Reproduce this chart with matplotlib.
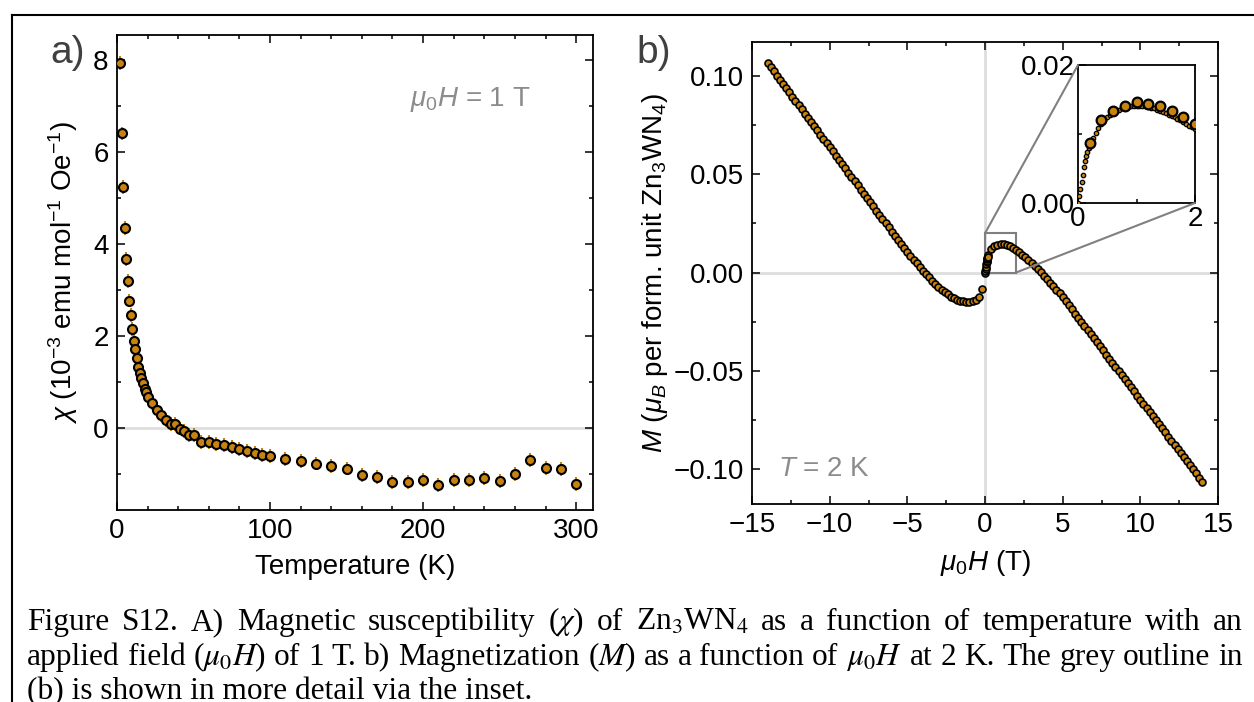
import matplotlib
matplotlib.use("Agg")
import matplotlib.pyplot as plt
import numpy as np
from matplotlib.lines import Line2D
from matplotlib.patches import Rectangle, ConnectionPatch
from matplotlib.ticker import AutoMinorLocator, FuncFormatter, FixedLocator

plt.rcParams["font.family"] = ["Liberation Sans", "DejaVu Sans"]
plt.rcParams["mathtext.fontset"] = "custom"
plt.rcParams["mathtext.rm"] = "Liberation Sans"
plt.rcParams["mathtext.it"] = "Liberation Sans:italic"
plt.rcParams["mathtext.bf"] = "Liberation Sans:bold"
plt.rcParams["axes.unicode_minus"] = True

# ---- panel a: susceptibility vs temperature (mu0H = 1 T)
temp_k = [2, 3, 4, 5, 6, 7, 8, 9, 10, 11, 12, 13, 14, 15, 16, 17, 18, 19, 20,
          23, 26, 29, 32, 35, 38, 41, 44, 47, 50,
          55, 60, 65, 70, 75, 80, 85, 90, 95, 100,
          110, 120, 130, 140, 150, 160, 170, 180, 190, 200,
          210, 220, 230, 240, 250, 260, 270, 280, 290, 300]
chi = [7.94, 6.40, 5.24, 4.34, 3.68, 3.20, 2.77, 2.46, 2.15, 1.89, 1.72, 1.52, 1.33, 1.19, 1.08, 0.97, 0.85, 0.78, 0.68,
       0.55, 0.39, 0.28, 0.18, 0.09, 0.09, -0.01, -0.07, -0.15, -0.15,
       -0.30, -0.31, -0.34, -0.37, -0.41, -0.45, -0.50, -0.55, -0.59, -0.60,
       -0.67, -0.72, -0.77, -0.83, -0.88, -1.02, -1.07, -1.18, -1.18, -1.12,
       -1.23, -1.13, -1.12, -1.09, -1.15, -0.99, -0.70, -0.86, -0.89, -1.21]
chi_err = 0.15

# ---- panel b: magnetization vs field at 2 K
field_neg = np.linspace(-14.0, -0.2, 70)
mag_neg = [0.1068, 0.1047, 0.1025, 0.1004, 0.0982, 0.0961, 0.0939, 0.0918, 0.0896, 0.0875,
           0.0853, 0.0832, 0.0810, 0.0789, 0.0767, 0.0746, 0.0724, 0.0703, 0.0681, 0.0660,
           0.0638, 0.0617, 0.0595, 0.0574, 0.0552, 0.0531, 0.0509, 0.0488, 0.0466, 0.0445,
           0.0423, 0.0402, 0.0380, 0.0359, 0.0337, 0.0316, 0.0294, 0.0273, 0.0251, 0.0230,
           0.0209, 0.0188, 0.0167, 0.0146, 0.0126, 0.0106, 0.0086, 0.0066, 0.0047, 0.0028,
           0.0010, -0.0008, -0.0025, -0.0042, -0.0058, -0.0073, -0.0087, -0.0100, -0.0112, -0.0123,
           -0.0132, -0.0139, -0.0144, -0.0147, -0.0149, -0.0148, -0.0145, -0.0138, -0.0125, -0.0082]

field_pos = np.linspace(0.2, 14.0, 70)
mag_pos = [0.0087, 0.0120, 0.0133, 0.0141, 0.0147, 0.0144, 0.0141, 0.0134, 0.0125, 0.0115,
           0.0104, 0.0091, 0.0077, 0.0063, 0.0048, 0.0033, 0.0017, 0.0001, -0.0016, -0.0033,
           -0.0051, -0.0069, -0.0087, -0.0106, -0.0125, -0.0146, -0.0167, -0.0188, -0.0209, -0.0230,
           -0.0250, -0.0271, -0.0292, -0.0313, -0.0334, -0.0355, -0.0376, -0.0397, -0.0418, -0.0439,
           -0.0459, -0.0480, -0.0501, -0.0522, -0.0543, -0.0564, -0.0585, -0.0606, -0.0627, -0.0648,
           -0.0668, -0.0689, -0.0710, -0.0731, -0.0752, -0.0773, -0.0794, -0.0815, -0.0836, -0.0857,
           -0.0877, -0.0898, -0.0919, -0.0940, -0.0961, -0.0982, -0.1003, -0.1024, -0.1045, -0.1066]

# fine low-field sweep shown in the inset
field_fine = [0.0, 0.02, 0.04, 0.06, 0.08, 0.10, 0.12, 0.14, 0.16, 0.18] + list(np.linspace(0.2, 2.0, 37))
mag_fine = [0.0000, 0.0010, 0.0020, 0.0030, 0.0041, 0.0052, 0.0061, 0.0068, 0.0074, 0.0079,
            0.0084, 0.0094, 0.0102, 0.0109, 0.0115, 0.0120,
            0.0124, 0.0127, 0.0130, 0.0133, 0.0135, 0.0137, 0.0138, 0.0139, 0.0140, 0.0141,
            0.0141, 0.0141, 0.0141, 0.0140, 0.0139, 0.0138, 0.0137, 0.0135, 0.0134, 0.0132,
            0.0130, 0.0128, 0.0126, 0.0124, 0.0122, 0.0120, 0.0117, 0.0115, 0.0112, 0.0110,
            0.0107]

ORANGE = "#c8820f"
ZERO = "#dedede"
GREY_TXT = "#8c8c8c"

W, H = 1254, 702
fig = plt.figure(figsize=(W / 100, H / 100), dpi=100)


def px_box(l, t, r, b):
    return [l / W, 1 - b / H, (r - l) / W, (b - t) / H]


def style(ax, nx=2, ny=2):
    ax.tick_params(which="both", direction="in", top=True, right=True, labelsize=20, pad=6, width=1.1)
    ax.tick_params(which="major", length=5.5)
    ax.tick_params(which="minor", length=3.2)
    for s in ax.spines.values():
        s.set_linewidth(1.3)
    ax.xaxis.set_minor_locator(AutoMinorLocator(nx))
    ax.yaxis.set_minor_locator(AutoMinorLocator(ny))


# ---- panel a
ax1 = fig.add_axes(px_box(117, 35, 593, 510))
ax1.axhline(0, color=ZERO, lw=2, zorder=0)
ax1.errorbar(temp_k, chi, yerr=chi_err, fmt="o", ms=6.5, mfc=ORANGE, mec="black", mew=1.5,
             ecolor=ORANGE, elinewidth=1.5, capsize=0, zorder=3)
ax1.set_xlim(0, 311)
ax1.set_ylim(-1.78, 8.54)
ax1.set_xticks([0, 100, 200, 300])
ax1.set_yticks([0, 2, 4, 6, 8])
style(ax1, nx=5, ny=2)
ax1.set_xlabel("Temperature (K)", fontsize=20)
ax1.set_ylabel(r"$\chi$ (10$^{-3}$ emu mol$^{-1}$ Oe$^{-1}$)", fontsize=20)
ax1.yaxis.set_label_coords(-0.078, 0.5)
ax1.xaxis.set_label_coords(0.5, -0.093)
ax1.text(0.6155, 0.865, r"$\mu_0H$ = 1 T", transform=ax1.transAxes, fontsize=20,
         color=GREY_TXT, ha="left", va="center")

# ---- panel b
mk = dict(ls="none", marker="o", mfc=ORANGE, mec="black", mew=1.2)
ax2 = fig.add_axes(px_box(752, 42, 1218, 504))
ax2.axhline(0, color=ZERO, lw=2, zorder=0)
ax2.axvline(0, color=ZERO, lw=2, zorder=0)
ax2.plot(field_neg, mag_neg, ms=5, zorder=3, **mk)
ax2.plot(field_pos, mag_pos, ms=5, zorder=3, **mk)
low = [i for i, h in enumerate(field_fine) if h < 0.2]
ax2.plot([field_fine[i] for i in low], [mag_fine[i] for i in low], ms=5, zorder=3, **mk)
ax2.add_patch(Rectangle((0, 0), 2, 0.02, fill=False, ec="#7f7f7f", lw=1.5, zorder=2))
ax2.set_xlim(-15, 15)
ax2.set_ylim(-0.118, 0.1175)
ax2.set_xticks([-15, -10, -5, 0, 5, 10, 15])
ax2.set_yticks([-0.10, -0.05, 0.0, 0.05, 0.10])
fmt2 = FuncFormatter(lambda v, _: f"{0.0 if abs(v) < 1e-9 else v:.2f}".replace("-", "\u2212"))
ax2.yaxis.set_major_formatter(fmt2)
style(ax2)
ax2.set_xlabel(r"$\mu_0H$ (T)", fontsize=20)
ax2.set_ylabel(r"$M$ ($\mu_B$ per form. unit Zn$_3$WN$_4$)", fontsize=20)
ax2.yaxis.set_label_coords(-0.176, 0.5)
ax2.xaxis.set_label_coords(0.5, -0.095)
ax2.text(0.0558, 0.0758, r"$T$ = 2 K", transform=ax2.transAxes, fontsize=20,
         color=GREY_TXT, ha="left", va="center")

# ---- inset
axin = fig.add_axes(px_box(1078, 65, 1195, 203))
axin.plot(field_fine, mag_fine, ms=3.2, zorder=3, **dict(mk, mew=0.9))
axin.plot(field_pos, mag_pos, ms=7, zorder=4, **dict(mk, mew=1.6))
axin.set_xlim(0, 2)
axin.set_ylim(0, 0.02)
axin.set_xticks([0, 2])
axin.set_yticks([0, 0.02])
axin.xaxis.set_minor_locator(FixedLocator([1]))
axin.yaxis.set_minor_locator(FixedLocator([0.01]))
axin.yaxis.set_major_formatter(FuncFormatter(lambda v, _: f"{v:.2f}"))
axin.tick_params(which="both", direction="in", labelsize=20, pad=2, width=1.1)
axin.tick_params(which="major", length=5.5)
axin.tick_params(which="minor", length=3.2)
for s in axin.spines.values():
    s.set_linewidth(1.3)

for xy_main, xy_in in [((0, 0.02), (0, 1)), ((2, 0), (1, 0))]:
    cp = ConnectionPatch(xyA=xy_main, coordsA=ax2.transData, xyB=xy_in, coordsB=axin.transAxes,
                         color="#808080", lw=1.5, zorder=1)
    fig.add_artist(cp)

# panel letters
fig.text(50 / W, 1 - 53 / H, "a)", fontsize=28, color="#404040", va="center", ha="left")
fig.text(636 / W, 1 - 53 / H, "b)", fontsize=28, color="#404040", va="center", ha="left")

# page frame
fig.add_artist(Line2D([12 / W, 1], [1 - 15 / H, 1 - 15 / H], transform=fig.transFigure, color="black", lw=1.5))
fig.add_artist(Line2D([12 / W, 12 / W], [1 - 15 / H, 0], transform=fig.transFigure, color="black", lw=1.5))

# ---- caption (justified)
cap_lines = [
    ["Figure", "S12.", "A)", "Magnetic", "susceptibility", r"($\chi$)", "of", r"Zn$_3$WN$_4$",
     "as", "a", "function", "of", "temperature", "with", "an"],
    ["applied", "field", r"($\mu_0H$)", "of", "1", "T.", "b)", "Magnetization", r"($M$)", "as", "a",
     "function", "of", r"$\mu_0H$", "at", "2", "K.", "The", "grey", "outline", "in"],
]
cap_last = "(b) is shown in more detail via the inset."
cap_kw = dict(family=["Liberation Serif", "DejaVu Serif"], math_fontfamily="stix", va="baseline", ha="left")
x_left, x_right = 27, 1243
baselines = [630, 665, 699]

renderer = fig.canvas.get_renderer()
base = 20
texts = [[fig.text(0, 0, w, fontsize=base, **cap_kw) for w in line] for line in cap_lines]
sp = 0.25 * base * 100 / 72
nat2 = sum(t.get_window_extent(renderer).width for t in texts[1]) + sp * (len(texts[1]) - 1)
size = base * (x_right - x_left - 3) / nat2
for line, yb in zip(texts, baselines):
    for t in line:
        t.set_fontsize(size)
    widths = [t.get_window_extent(renderer).width for t in line]
    gap = (x_right - x_left - sum(widths)) / (len(line) - 1)
    x = x_left
    for t, w in zip(line, widths):
        t.set_position((x / W, 1 - yb / H))
        x += w + gap
fig.text(x_left / W, 1 - baselines[2] / H, cap_last, fontsize=size, **cap_kw)

fig.savefig("out.png", dpi=100)
